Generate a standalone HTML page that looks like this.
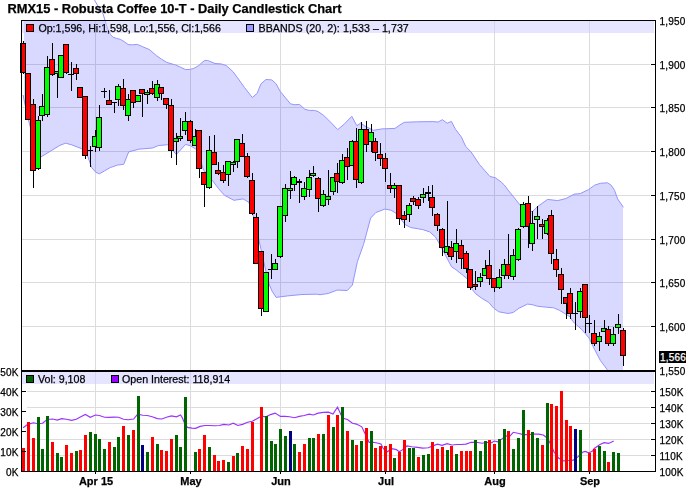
<!DOCTYPE html>
<html><head><meta charset="utf-8"><title>RMX15 - Robusta Coffee 10-T - Daily Candlestick Chart</title>
<style>html,body{margin:0;padding:0;background:#fff}body{width:694px;height:494px;overflow:hidden}svg{display:block}text{font-family:"Liberation Sans",sans-serif;fill:#000;stroke:#000;stroke-width:0.25px}.ax{font-size:10px;letter-spacing:0.18px}.lg{font-size:10.67px}.mo{font-size:11px;font-weight:bold}.ce{shape-rendering:crispEdges}</style></head><body>
<svg width="694" height="494" viewBox="0 0 694 494">
<rect width="694" height="494" fill="#fff"/>
<defs><clipPath id="pc"><rect x="22" y="21" width="633" height="349"/></clipPath><clipPath id="vc"><rect x="22" y="372" width="633" height="99"/></clipPath></defs>
<g class="ce" fill="#dcdcdc">
<rect x="22" y="64" width="628" height="1"/>
<rect x="22" y="107" width="628" height="1"/>
<rect x="22" y="151" width="628" height="1"/>
<rect x="22" y="195" width="628" height="1"/>
<rect x="22" y="239" width="628" height="1"/>
<rect x="22" y="282" width="628" height="1"/>
<rect x="22" y="326" width="628" height="1"/>
<rect x="95" y="21" width="1" height="349"/>
<rect x="190" y="21" width="1" height="349"/>
<rect x="280" y="21" width="1" height="349"/>
<rect x="385" y="21" width="1" height="349"/>
<rect x="494" y="21" width="1" height="349"/>
<rect x="589" y="21" width="1" height="349"/>
<rect x="27" y="391" width="623" height="1"/>
<rect x="27" y="407" width="623" height="1"/>
<rect x="27" y="423" width="623" height="1"/>
<rect x="27" y="439" width="623" height="1"/>
<rect x="27" y="455" width="623" height="1"/>
<rect x="95" y="372" width="1" height="99"/>
<rect x="190" y="372" width="1" height="99"/>
<rect x="280" y="372" width="1" height="99"/>
<rect x="385" y="372" width="1" height="99"/>
<rect x="494" y="372" width="1" height="99"/>
<rect x="589" y="372" width="1" height="99"/>
</g>
<path d="M24.0,-30.0 L86.0,-20.0 L94.5,0.0 L97.3,5.0 L103.1,14.0 L104.6,19.0 L108.1,30.0 L110.5,34.5 L113.1,37.3 L116.5,38.4 L120.2,39.3 L124.0,41.5 L128.2,44.6 L132.5,44.8 L137.3,44.4 L142.4,46.6 L149.4,49.6 L156.5,55.7 L161.5,59.2 L166.6,62.3 L172.0,64.0 L175.6,64.9 L180.5,67.2 L185.7,69.6 L189.8,69.4 L193.8,68.4 L198.9,65.5 L202.0,62.5 L204.9,60.4 L207.3,60.5 L209.9,61.4 L215.0,63.5 L221.0,63.9 L226.1,65.5 L230.0,68.9 L233.1,71.8 L237.2,77.3 L244.4,87.4 L252.3,97.5 L257.1,93.4 L261.0,83.8 L266.0,79.5 L271.8,79.9 L276.1,83.8 L280.4,91.7 L285.5,97.8 L290.5,103.9 L294.8,104.7 L299.5,104.4 L304.9,109.3 L309.3,110.4 L314.3,110.4 L318.2,111.6 L323.7,115.5 L328.7,120.2 L337.7,129.6 L344.6,123.8 L351.8,116.3 L356.8,125.7 L360.7,123.1 L364.8,126.0 L373.4,130.3 L382.0,128.9 L395.0,128.4 L400.0,124.9 L404.3,122.3 L417.3,121.8 L432.9,121.6 L438.1,122.0 L442.4,119.7 L447.1,123.2 L451.4,121.4 L455.4,129.2 L461.4,137.0 L465.7,146.5 L470.9,151.7 L479.6,164.7 L490.0,176.5 L495.2,177.7 L501.2,182.0 L504.3,185.0 L508.1,190.1 L520.2,205.2 L525.0,209.0 L532.4,211.7 L537.5,206.6 L547.6,199.4 L557.6,200.6 L565.8,198.6 L574.4,194.1 L580.2,193.6 L588.8,189.5 L594.6,185.2 L600.3,183.3 L607.5,182.8 L611.2,185.2 L614.5,190.3 L617.6,198.9 L623.4,207.3 L623.0,207.3 L623.0,386.0 L623.4,386.0 L615.0,380.0 L606.9,369.2 L600.4,360.5 L594.7,349.7 L588.9,337.8 L581.7,329.5 L573.0,321.6 L570.0,316.8 L565.1,313.7 L559.3,310.3 L553.6,307.8 L546.4,307.2 L537.7,306.3 L532.0,304.6 L527.6,304.1 L519.0,308.2 L513.2,312.5 L508.2,313.5 L498.8,311.8 L493.8,308.2 L488.7,302.4 L481.5,298.1 L475.8,293.8 L472.2,289.5 L467.5,279.0 L463.1,275.4 L455.9,269.7 L451.6,266.8 L445.9,256.0 L439.4,243.7 L435.4,237.0 L429.7,231.9 L422.5,229.5 L410.9,227.6 L405.2,224.7 L400.0,218.0 L395.9,213.2 L390.9,210.1 L384.8,209.1 L375.7,212.6 L370.6,218.2 L363.5,244.5 L357.4,261.7 L352.4,285.0 L347.3,290.5 L337.2,290.1 L328.1,293.5 L320.0,294.7 L316.5,294.2 L302.0,294.5 L287.6,295.9 L276.1,297.4 L272.0,291.0 L268.4,282.6 L258.8,239.4 L254.0,218.0 L249.0,202.5 L243.2,198.9 L233.9,200.3 L224.5,195.3 L218.7,188.8 L212.2,180.2 L203.7,170.3 L196.5,149.5 L190.7,145.9 L185.6,144.4 L176.3,154.5 L167.6,144.7 L158.3,145.6 L152.5,148.0 L138.8,149.2 L128.7,151.9 L123.7,164.3 L117.4,165.1 L110.2,167.6 L104.5,170.9 L99.4,173.8 L95.8,172.3 L91.5,167.3 L88.0,157.0 L82.5,149.0 L71.3,144.7 L65.5,143.2 L59.8,145.4 L41.0,156.9 L37.0,150.0 L33.0,138.0 L28.0,118.0 L23.8,98.8 L23.0,95.0 L24.0,95.0Z" fill="#0000ff" fill-opacity="0.15" clip-path="url(#pc)"/>
<polyline fill="none" stroke="#9494ff" stroke-width="1" points="86.0,-20.0 94.5,0.0 97.3,5.0 103.1,14.0 104.6,19.0 108.1,30.0 110.5,34.5 113.1,37.3 116.5,38.4 120.2,39.3 124.0,41.5 128.2,44.6 132.5,44.8 137.3,44.4 142.4,46.6 149.4,49.6 156.5,55.7 161.5,59.2 166.6,62.3 172.0,64.0 175.6,64.9 180.5,67.2 185.7,69.6 189.8,69.4 193.8,68.4 198.9,65.5 202.0,62.5 204.9,60.4 207.3,60.5 209.9,61.4 215.0,63.5 221.0,63.9 226.1,65.5 230.0,68.9 233.1,71.8 237.2,77.3 244.4,87.4 252.3,97.5 257.1,93.4 261.0,83.8 266.0,79.5 271.8,79.9 276.1,83.8 280.4,91.7 285.5,97.8 290.5,103.9 294.8,104.7 299.5,104.4 304.9,109.3 309.3,110.4 314.3,110.4 318.2,111.6 323.7,115.5 328.7,120.2 337.7,129.6 344.6,123.8 351.8,116.3 356.8,125.7 360.7,123.1 364.8,126.0 373.4,130.3 382.0,128.9 395.0,128.4 400.0,124.9 404.3,122.3 417.3,121.8 432.9,121.6 438.1,122.0 442.4,119.7 447.1,123.2 451.4,121.4 455.4,129.2 461.4,137.0 465.7,146.5 470.9,151.7 479.6,164.7 490.0,176.5 495.2,177.7 501.2,182.0 504.3,185.0 508.1,190.1 520.2,205.2 525.0,209.0 532.4,211.7 537.5,206.6 547.6,199.4 557.6,200.6 565.8,198.6 574.4,194.1 580.2,193.6 588.8,189.5 594.6,185.2 600.3,183.3 607.5,182.8 611.2,185.2 614.5,190.3 617.6,198.9 623.4,207.3"/>
<polyline fill="none" stroke="#9494ff" stroke-width="1" clip-path="url(#pc)" points="23.0,95.0 23.8,98.8 28.0,118.0 33.0,138.0 37.0,150.0 41.0,156.9 59.8,145.4 65.5,143.2 71.3,144.7 82.5,149.0 88.0,157.0 91.5,167.3 95.8,172.3 99.4,173.8 104.5,170.9 110.2,167.6 117.4,165.1 123.7,164.3 128.7,151.9 138.8,149.2 152.5,148.0 158.3,145.6 167.6,144.7 176.3,154.5 185.6,144.4 190.7,145.9 196.5,149.5 203.7,170.3 212.2,180.2 218.7,188.8 224.5,195.3 233.9,200.3 243.2,198.9 249.0,202.5 254.0,218.0 258.8,239.4 268.4,282.6 272.0,291.0 276.1,297.4 287.6,295.9 302.0,294.5 316.5,294.2 320.0,294.7 328.1,293.5 337.2,290.1 347.3,290.5 352.4,285.0 357.4,261.7 363.5,244.5 370.6,218.2 375.7,212.6 384.8,209.1 390.9,210.1 395.9,213.2 400.0,218.0 405.2,224.7 410.9,227.6 422.5,229.5 429.7,231.9 435.4,237.0 439.4,243.7 445.9,256.0 451.6,266.8 455.9,269.7 463.1,275.4 467.5,279.0 472.2,289.5 475.8,293.8 481.5,298.1 488.7,302.4 493.8,308.2 498.8,311.8 508.2,313.5 513.2,312.5 519.0,308.2 527.6,304.1 532.0,304.6 537.7,306.3 546.4,307.2 553.6,307.8 559.3,310.3 565.1,313.7 570.0,316.8 573.0,321.6 581.7,329.5 588.9,337.8 594.7,349.7 600.4,360.5 606.9,369.2 615.0,380.0 623.4,386.0"/>
<rect class="ce" x="22" y="21" width="632" height="12" fill="#ccccff" fill-opacity="0.5"/>
<g class="ce">
<rect x="23" y="41" width="1" height="33" fill="#000"/>
<rect x="20" y="43" width="6" height="30" fill="#000"/>
<rect x="21" y="44" width="4" height="28" fill="#ff0000"/>
<rect x="28" y="73" width="1" height="47" fill="#000"/>
<rect x="25" y="73" width="6" height="47" fill="#000"/>
<rect x="26" y="74" width="4" height="45" fill="#ff0000"/>
<rect x="33" y="99" width="1" height="89" fill="#000"/>
<rect x="30" y="104" width="6" height="67" fill="#000"/>
<rect x="31" y="105" width="4" height="65" fill="#ff0000"/>
<rect x="38" y="116" width="1" height="54" fill="#000"/>
<rect x="35" y="120" width="6" height="49" fill="#000"/>
<rect x="36" y="121" width="4" height="47" fill="#00ff00"/>
<rect x="42" y="94" width="1" height="27" fill="#000"/>
<rect x="39" y="106" width="6" height="10" fill="#000"/>
<rect x="40" y="107" width="4" height="8" fill="#00ff00"/>
<rect x="47" y="56" width="1" height="61" fill="#000"/>
<rect x="44" y="67" width="6" height="48" fill="#000"/>
<rect x="45" y="68" width="4" height="46" fill="#00ff00"/>
<rect x="52" y="43" width="1" height="33" fill="#000"/>
<rect x="49" y="59" width="6" height="16" fill="#000"/>
<rect x="50" y="60" width="4" height="14" fill="#ff0000"/>
<rect x="57" y="71" width="1" height="27" fill="#000"/>
<rect x="54" y="71" width="6" height="3" fill="#000"/>
<rect x="55" y="72" width="4" height="1" fill="#00ff00"/>
<rect x="61" y="55" width="1" height="23" fill="#000"/>
<rect x="58" y="55" width="6" height="23" fill="#000"/>
<rect x="59" y="56" width="4" height="21" fill="#00ff00"/>
<rect x="66" y="44" width="1" height="30" fill="#000"/>
<rect x="63" y="44" width="6" height="29" fill="#000"/>
<rect x="64" y="45" width="4" height="27" fill="#ff0000"/>
<rect x="71" y="62" width="1" height="29" fill="#000"/>
<rect x="68" y="74" width="6" height="1" fill="#000"/>
<rect x="76" y="64" width="1" height="16" fill="#000"/>
<rect x="73" y="68" width="6" height="6" fill="#000"/>
<rect x="74" y="69" width="4" height="4" fill="#ff0000"/>
<rect x="80" y="87" width="1" height="11" fill="#000"/>
<rect x="77" y="87" width="6" height="11" fill="#000"/>
<rect x="78" y="88" width="4" height="9" fill="#ff0000"/>
<rect x="85" y="96" width="1" height="63" fill="#000"/>
<rect x="82" y="96" width="6" height="60" fill="#000"/>
<rect x="83" y="97" width="4" height="58" fill="#ff0000"/>
<rect x="90" y="146" width="1" height="21" fill="#000"/>
<rect x="87" y="150" width="6" height="1" fill="#000"/>
<rect x="95" y="130" width="1" height="22" fill="#000"/>
<rect x="92" y="136" width="6" height="11" fill="#000"/>
<rect x="93" y="137" width="4" height="9" fill="#00ff00"/>
<rect x="99" y="105" width="1" height="46" fill="#000"/>
<rect x="96" y="117" width="6" height="31" fill="#000"/>
<rect x="97" y="118" width="4" height="29" fill="#00ff00"/>
<rect x="104" y="88" width="1" height="10" fill="#000"/>
<rect x="101" y="91" width="6" height="1" fill="#000"/>
<rect x="109" y="90" width="1" height="15" fill="#000"/>
<rect x="106" y="100" width="6" height="5" fill="#000"/>
<rect x="107" y="101" width="4" height="3" fill="#ff0000"/>
<rect x="114" y="102" width="1" height="11" fill="#000"/>
<rect x="111" y="102" width="6" height="1" fill="#000"/>
<rect x="118" y="84" width="1" height="22" fill="#000"/>
<rect x="115" y="86" width="6" height="14" fill="#000"/>
<rect x="116" y="87" width="4" height="12" fill="#00ff00"/>
<rect x="123" y="79" width="1" height="31" fill="#000"/>
<rect x="120" y="88" width="6" height="18" fill="#000"/>
<rect x="121" y="89" width="4" height="16" fill="#ff0000"/>
<rect x="128" y="94" width="1" height="27" fill="#000"/>
<rect x="125" y="99" width="6" height="17" fill="#000"/>
<rect x="126" y="100" width="4" height="15" fill="#00ff00"/>
<rect x="133" y="90" width="1" height="18" fill="#000"/>
<rect x="130" y="90" width="6" height="13" fill="#000"/>
<rect x="131" y="91" width="4" height="11" fill="#ff0000"/>
<rect x="138" y="95" width="1" height="7" fill="#000"/>
<rect x="135" y="95" width="6" height="7" fill="#000"/>
<rect x="136" y="96" width="4" height="5" fill="#00ff00"/>
<rect x="142" y="89" width="1" height="28" fill="#000"/>
<rect x="139" y="89" width="6" height="5" fill="#000"/>
<rect x="140" y="90" width="4" height="3" fill="#ff0000"/>
<rect x="147" y="90" width="1" height="14" fill="#000"/>
<rect x="144" y="92" width="6" height="3" fill="#000"/>
<rect x="145" y="93" width="4" height="1" fill="#00ff00"/>
<rect x="152" y="81" width="1" height="14" fill="#000"/>
<rect x="149" y="88" width="6" height="6" fill="#000"/>
<rect x="150" y="89" width="4" height="4" fill="#ff0000"/>
<rect x="157" y="80" width="1" height="21" fill="#000"/>
<rect x="154" y="84" width="6" height="14" fill="#000"/>
<rect x="155" y="85" width="4" height="12" fill="#00ff00"/>
<rect x="161" y="87" width="1" height="13" fill="#000"/>
<rect x="158" y="87" width="6" height="7" fill="#000"/>
<rect x="159" y="88" width="4" height="5" fill="#ff0000"/>
<rect x="166" y="98" width="1" height="11" fill="#000"/>
<rect x="163" y="98" width="6" height="7" fill="#000"/>
<rect x="164" y="99" width="4" height="5" fill="#ff0000"/>
<rect x="171" y="99" width="1" height="59" fill="#000"/>
<rect x="168" y="105" width="6" height="46" fill="#000"/>
<rect x="169" y="106" width="4" height="44" fill="#ff0000"/>
<rect x="176" y="133" width="1" height="32" fill="#000"/>
<rect x="173" y="138" width="6" height="4" fill="#000"/>
<rect x="174" y="139" width="4" height="2" fill="#00ff00"/>
<rect x="180" y="118" width="1" height="23" fill="#000"/>
<rect x="177" y="136" width="6" height="3" fill="#000"/>
<rect x="178" y="137" width="4" height="1" fill="#00ff00"/>
<rect x="185" y="112" width="1" height="23" fill="#000"/>
<rect x="182" y="121" width="6" height="10" fill="#000"/>
<rect x="183" y="122" width="4" height="8" fill="#00ff00"/>
<rect x="190" y="120" width="1" height="23" fill="#000"/>
<rect x="187" y="121" width="6" height="20" fill="#000"/>
<rect x="188" y="122" width="4" height="18" fill="#ff0000"/>
<rect x="195" y="129" width="1" height="17" fill="#000"/>
<rect x="192" y="136" width="6" height="10" fill="#000"/>
<rect x="193" y="137" width="4" height="8" fill="#00ff00"/>
<rect x="199" y="130" width="1" height="48" fill="#000"/>
<rect x="196" y="130" width="6" height="39" fill="#000"/>
<rect x="197" y="131" width="4" height="37" fill="#ff0000"/>
<rect x="204" y="172" width="1" height="35" fill="#000"/>
<rect x="201" y="172" width="6" height="13" fill="#000"/>
<rect x="202" y="173" width="4" height="11" fill="#ff0000"/>
<rect x="209" y="136" width="1" height="53" fill="#000"/>
<rect x="206" y="150" width="6" height="38" fill="#000"/>
<rect x="207" y="151" width="4" height="36" fill="#00ff00"/>
<rect x="214" y="135" width="1" height="30" fill="#000"/>
<rect x="211" y="152" width="6" height="13" fill="#000"/>
<rect x="212" y="153" width="4" height="11" fill="#ff0000"/>
<rect x="218" y="162" width="1" height="13" fill="#000"/>
<rect x="215" y="170" width="6" height="4" fill="#000"/>
<rect x="216" y="171" width="4" height="2" fill="#ff0000"/>
<rect x="223" y="165" width="1" height="18" fill="#000"/>
<rect x="220" y="172" width="6" height="9" fill="#000"/>
<rect x="221" y="173" width="4" height="7" fill="#ff0000"/>
<rect x="228" y="161" width="1" height="25" fill="#000"/>
<rect x="225" y="161" width="6" height="14" fill="#000"/>
<rect x="226" y="162" width="4" height="12" fill="#00ff00"/>
<rect x="233" y="161" width="1" height="11" fill="#000"/>
<rect x="230" y="162" width="6" height="3" fill="#000"/>
<rect x="231" y="163" width="4" height="1" fill="#00ff00"/>
<rect x="237" y="139" width="1" height="29" fill="#000"/>
<rect x="234" y="139" width="6" height="23" fill="#000"/>
<rect x="235" y="140" width="4" height="21" fill="#00ff00"/>
<rect x="242" y="134" width="1" height="23" fill="#000"/>
<rect x="239" y="143" width="6" height="14" fill="#000"/>
<rect x="240" y="144" width="4" height="12" fill="#ff0000"/>
<rect x="247" y="153" width="1" height="25" fill="#000"/>
<rect x="244" y="156" width="6" height="21" fill="#000"/>
<rect x="245" y="157" width="4" height="19" fill="#ff0000"/>
<rect x="252" y="173" width="1" height="42" fill="#000"/>
<rect x="249" y="180" width="6" height="34" fill="#000"/>
<rect x="250" y="181" width="4" height="32" fill="#ff0000"/>
<rect x="256" y="213" width="1" height="51" fill="#000"/>
<rect x="253" y="217" width="6" height="47" fill="#000"/>
<rect x="254" y="218" width="4" height="45" fill="#ff0000"/>
<rect x="261" y="251" width="1" height="65" fill="#000"/>
<rect x="258" y="251" width="6" height="58" fill="#000"/>
<rect x="259" y="252" width="4" height="56" fill="#ff0000"/>
<rect x="266" y="272" width="1" height="40" fill="#000"/>
<rect x="263" y="272" width="6" height="40" fill="#000"/>
<rect x="264" y="273" width="4" height="38" fill="#00ff00"/>
<rect x="271" y="254" width="1" height="25" fill="#000"/>
<rect x="268" y="269" width="6" height="1" fill="#000"/>
<rect x="275" y="259" width="1" height="11" fill="#000"/>
<rect x="272" y="263" width="6" height="7" fill="#000"/>
<rect x="273" y="264" width="4" height="5" fill="#00ff00"/>
<rect x="280" y="206" width="1" height="52" fill="#000"/>
<rect x="277" y="206" width="6" height="51" fill="#000"/>
<rect x="278" y="207" width="4" height="49" fill="#00ff00"/>
<rect x="285" y="184" width="1" height="38" fill="#000"/>
<rect x="282" y="188" width="6" height="28" fill="#000"/>
<rect x="283" y="189" width="4" height="26" fill="#00ff00"/>
<rect x="290" y="171" width="1" height="28" fill="#000"/>
<rect x="287" y="188" width="6" height="3" fill="#000"/>
<rect x="288" y="189" width="4" height="1" fill="#00ff00"/>
<rect x="294" y="176" width="1" height="15" fill="#000"/>
<rect x="291" y="177" width="6" height="8" fill="#000"/>
<rect x="292" y="178" width="4" height="6" fill="#00ff00"/>
<rect x="299" y="179" width="1" height="24" fill="#000"/>
<rect x="296" y="181" width="6" height="2" fill="#000"/>
<rect x="304" y="182" width="1" height="18" fill="#000"/>
<rect x="301" y="188" width="6" height="9" fill="#000"/>
<rect x="302" y="189" width="4" height="7" fill="#00ff00"/>
<rect x="309" y="170" width="1" height="27" fill="#000"/>
<rect x="306" y="177" width="6" height="13" fill="#000"/>
<rect x="307" y="178" width="4" height="11" fill="#00ff00"/>
<rect x="313" y="166" width="1" height="11" fill="#000"/>
<rect x="310" y="173" width="6" height="3" fill="#000"/>
<rect x="311" y="174" width="4" height="1" fill="#00ff00"/>
<rect x="318" y="177" width="1" height="35" fill="#000"/>
<rect x="315" y="178" width="6" height="21" fill="#000"/>
<rect x="316" y="179" width="4" height="19" fill="#ff0000"/>
<rect x="323" y="190" width="1" height="17" fill="#000"/>
<rect x="320" y="194" width="6" height="12" fill="#000"/>
<rect x="321" y="195" width="4" height="10" fill="#00ff00"/>
<rect x="328" y="170" width="1" height="35" fill="#000"/>
<rect x="325" y="196" width="6" height="4" fill="#000"/>
<rect x="326" y="197" width="4" height="2" fill="#00ff00"/>
<rect x="333" y="177" width="1" height="18" fill="#000"/>
<rect x="330" y="177" width="6" height="15" fill="#000"/>
<rect x="331" y="178" width="4" height="13" fill="#00ff00"/>
<rect x="337" y="163" width="1" height="30" fill="#000"/>
<rect x="334" y="173" width="6" height="9" fill="#000"/>
<rect x="335" y="174" width="4" height="7" fill="#ff0000"/>
<rect x="342" y="154" width="1" height="30" fill="#000"/>
<rect x="339" y="160" width="6" height="23" fill="#000"/>
<rect x="340" y="161" width="4" height="21" fill="#00ff00"/>
<rect x="347" y="148" width="1" height="32" fill="#000"/>
<rect x="344" y="157" width="6" height="10" fill="#000"/>
<rect x="345" y="158" width="4" height="8" fill="#ff0000"/>
<rect x="352" y="140" width="1" height="26" fill="#000"/>
<rect x="349" y="141" width="6" height="25" fill="#000"/>
<rect x="350" y="142" width="4" height="23" fill="#00ff00"/>
<rect x="356" y="128" width="1" height="60" fill="#000"/>
<rect x="353" y="141" width="6" height="39" fill="#000"/>
<rect x="354" y="142" width="4" height="37" fill="#ff0000"/>
<rect x="361" y="122" width="1" height="62" fill="#000"/>
<rect x="358" y="129" width="6" height="54" fill="#000"/>
<rect x="359" y="130" width="4" height="52" fill="#00ff00"/>
<rect x="366" y="121" width="1" height="31" fill="#000"/>
<rect x="363" y="129" width="6" height="16" fill="#000"/>
<rect x="364" y="130" width="4" height="14" fill="#ff0000"/>
<rect x="371" y="124" width="1" height="28" fill="#000"/>
<rect x="368" y="132" width="6" height="10" fill="#000"/>
<rect x="369" y="133" width="4" height="8" fill="#00ff00"/>
<rect x="375" y="138" width="1" height="23" fill="#000"/>
<rect x="372" y="141" width="6" height="12" fill="#000"/>
<rect x="373" y="142" width="4" height="10" fill="#ff0000"/>
<rect x="380" y="143" width="1" height="23" fill="#000"/>
<rect x="377" y="154" width="6" height="5" fill="#000"/>
<rect x="378" y="155" width="4" height="3" fill="#ff0000"/>
<rect x="385" y="153" width="1" height="29" fill="#000"/>
<rect x="382" y="158" width="6" height="11" fill="#000"/>
<rect x="383" y="159" width="4" height="9" fill="#ff0000"/>
<rect x="390" y="173" width="1" height="20" fill="#000"/>
<rect x="387" y="185" width="6" height="4" fill="#000"/>
<rect x="388" y="186" width="4" height="2" fill="#ff0000"/>
<rect x="394" y="183" width="1" height="15" fill="#000"/>
<rect x="391" y="185" width="6" height="4" fill="#000"/>
<rect x="392" y="186" width="4" height="2" fill="#00ff00"/>
<rect x="399" y="185" width="1" height="40" fill="#000"/>
<rect x="396" y="185" width="6" height="34" fill="#000"/>
<rect x="397" y="186" width="4" height="32" fill="#ff0000"/>
<rect x="404" y="211" width="1" height="17" fill="#000"/>
<rect x="401" y="215" width="6" height="5" fill="#000"/>
<rect x="402" y="216" width="4" height="3" fill="#ff0000"/>
<rect x="409" y="203" width="1" height="19" fill="#000"/>
<rect x="406" y="205" width="6" height="10" fill="#000"/>
<rect x="407" y="206" width="4" height="8" fill="#00ff00"/>
<rect x="413" y="196" width="1" height="9" fill="#000"/>
<rect x="410" y="198" width="6" height="4" fill="#000"/>
<rect x="411" y="199" width="4" height="2" fill="#ff0000"/>
<rect x="418" y="197" width="1" height="12" fill="#000"/>
<rect x="415" y="199" width="6" height="7" fill="#000"/>
<rect x="416" y="200" width="4" height="5" fill="#ff0000"/>
<rect x="423" y="188" width="1" height="15" fill="#000"/>
<rect x="420" y="194" width="6" height="4" fill="#000"/>
<rect x="421" y="195" width="4" height="2" fill="#00ff00"/>
<rect x="428" y="186" width="1" height="15" fill="#000"/>
<rect x="425" y="192" width="6" height="2" fill="#000"/>
<rect x="432" y="185" width="1" height="31" fill="#000"/>
<rect x="429" y="197" width="6" height="11" fill="#000"/>
<rect x="430" y="198" width="4" height="9" fill="#ff0000"/>
<rect x="437" y="213" width="1" height="18" fill="#000"/>
<rect x="434" y="214" width="6" height="12" fill="#000"/>
<rect x="435" y="215" width="4" height="10" fill="#ff0000"/>
<rect x="442" y="228" width="1" height="28" fill="#000"/>
<rect x="439" y="229" width="6" height="19" fill="#000"/>
<rect x="440" y="230" width="4" height="17" fill="#ff0000"/>
<rect x="447" y="201" width="1" height="54" fill="#000"/>
<rect x="444" y="246" width="6" height="7" fill="#000"/>
<rect x="445" y="247" width="4" height="5" fill="#00ff00"/>
<rect x="451" y="241" width="1" height="19" fill="#000"/>
<rect x="448" y="247" width="6" height="10" fill="#000"/>
<rect x="449" y="248" width="4" height="8" fill="#ff0000"/>
<rect x="456" y="229" width="1" height="34" fill="#000"/>
<rect x="453" y="243" width="6" height="9" fill="#000"/>
<rect x="454" y="244" width="4" height="7" fill="#00ff00"/>
<rect x="461" y="240" width="1" height="29" fill="#000"/>
<rect x="458" y="245" width="6" height="14" fill="#000"/>
<rect x="459" y="246" width="4" height="12" fill="#ff0000"/>
<rect x="466" y="251" width="1" height="22" fill="#000"/>
<rect x="463" y="253" width="6" height="16" fill="#000"/>
<rect x="464" y="254" width="4" height="14" fill="#ff0000"/>
<rect x="470" y="269" width="1" height="21" fill="#000"/>
<rect x="467" y="269" width="6" height="19" fill="#000"/>
<rect x="468" y="270" width="4" height="17" fill="#ff0000"/>
<rect x="475" y="271" width="1" height="19" fill="#000"/>
<rect x="472" y="284" width="6" height="3" fill="#000"/>
<rect x="473" y="285" width="4" height="1" fill="#ff0000"/>
<rect x="480" y="273" width="1" height="14" fill="#000"/>
<rect x="477" y="277" width="6" height="5" fill="#000"/>
<rect x="478" y="278" width="4" height="3" fill="#00ff00"/>
<rect x="485" y="260" width="1" height="16" fill="#000"/>
<rect x="482" y="268" width="6" height="8" fill="#000"/>
<rect x="483" y="269" width="4" height="6" fill="#00ff00"/>
<rect x="489" y="250" width="1" height="35" fill="#000"/>
<rect x="486" y="265" width="6" height="14" fill="#000"/>
<rect x="487" y="266" width="4" height="12" fill="#ff0000"/>
<rect x="494" y="278" width="1" height="14" fill="#000"/>
<rect x="491" y="278" width="6" height="10" fill="#000"/>
<rect x="492" y="279" width="4" height="8" fill="#ff0000"/>
<rect x="499" y="269" width="1" height="20" fill="#000"/>
<rect x="496" y="277" width="6" height="11" fill="#000"/>
<rect x="497" y="278" width="4" height="9" fill="#00ff00"/>
<rect x="504" y="259" width="1" height="20" fill="#000"/>
<rect x="501" y="264" width="6" height="12" fill="#000"/>
<rect x="502" y="265" width="4" height="10" fill="#00ff00"/>
<rect x="508" y="234" width="1" height="45" fill="#000"/>
<rect x="505" y="264" width="6" height="12" fill="#000"/>
<rect x="506" y="265" width="4" height="10" fill="#ff0000"/>
<rect x="513" y="249" width="1" height="31" fill="#000"/>
<rect x="510" y="255" width="6" height="22" fill="#000"/>
<rect x="511" y="256" width="4" height="20" fill="#00ff00"/>
<rect x="518" y="228" width="1" height="33" fill="#000"/>
<rect x="515" y="229" width="6" height="31" fill="#000"/>
<rect x="516" y="230" width="4" height="29" fill="#00ff00"/>
<rect x="523" y="202" width="1" height="26" fill="#000"/>
<rect x="520" y="204" width="6" height="23" fill="#000"/>
<rect x="521" y="205" width="4" height="21" fill="#00ff00"/>
<rect x="528" y="196" width="1" height="52" fill="#000"/>
<rect x="525" y="203" width="6" height="24" fill="#000"/>
<rect x="526" y="204" width="4" height="22" fill="#ff0000"/>
<rect x="532" y="211" width="1" height="40" fill="#000"/>
<rect x="529" y="223" width="6" height="21" fill="#000"/>
<rect x="530" y="224" width="4" height="19" fill="#00ff00"/>
<rect x="537" y="206" width="1" height="33" fill="#000"/>
<rect x="534" y="216" width="6" height="4" fill="#000"/>
<rect x="535" y="217" width="4" height="2" fill="#00ff00"/>
<rect x="542" y="219" width="1" height="20" fill="#000"/>
<rect x="539" y="224" width="6" height="3" fill="#000"/>
<rect x="540" y="225" width="4" height="1" fill="#ff0000"/>
<rect x="547" y="218" width="1" height="17" fill="#000"/>
<rect x="544" y="220" width="6" height="14" fill="#000"/>
<rect x="545" y="221" width="4" height="12" fill="#00ff00"/>
<rect x="551" y="210" width="1" height="54" fill="#000"/>
<rect x="548" y="215" width="6" height="39" fill="#000"/>
<rect x="549" y="216" width="4" height="37" fill="#ff0000"/>
<rect x="556" y="249" width="1" height="28" fill="#000"/>
<rect x="553" y="259" width="6" height="11" fill="#000"/>
<rect x="554" y="260" width="4" height="9" fill="#ff0000"/>
<rect x="561" y="268" width="1" height="36" fill="#000"/>
<rect x="558" y="274" width="6" height="16" fill="#000"/>
<rect x="559" y="275" width="4" height="14" fill="#ff0000"/>
<rect x="566" y="297" width="1" height="22" fill="#000"/>
<rect x="563" y="297" width="6" height="7" fill="#000"/>
<rect x="564" y="298" width="4" height="5" fill="#ff0000"/>
<rect x="570" y="288" width="1" height="31" fill="#000"/>
<rect x="567" y="293" width="6" height="21" fill="#000"/>
<rect x="568" y="294" width="4" height="19" fill="#ff0000"/>
<rect x="575" y="302" width="1" height="28" fill="#000"/>
<rect x="572" y="313" width="6" height="1" fill="#000"/>
<rect x="580" y="288" width="1" height="30" fill="#000"/>
<rect x="577" y="291" width="6" height="21" fill="#000"/>
<rect x="578" y="292" width="4" height="19" fill="#00ff00"/>
<rect x="585" y="284" width="1" height="49" fill="#000"/>
<rect x="582" y="284" width="6" height="34" fill="#000"/>
<rect x="583" y="285" width="4" height="32" fill="#ff0000"/>
<rect x="589" y="315" width="1" height="18" fill="#000"/>
<rect x="586" y="323" width="6" height="1" fill="#000"/>
<rect x="594" y="320" width="1" height="26" fill="#000"/>
<rect x="591" y="333" width="6" height="11" fill="#000"/>
<rect x="592" y="334" width="4" height="9" fill="#ff0000"/>
<rect x="599" y="332" width="1" height="19" fill="#000"/>
<rect x="596" y="336" width="6" height="6" fill="#000"/>
<rect x="597" y="337" width="4" height="4" fill="#00ff00"/>
<rect x="604" y="320" width="1" height="12" fill="#000"/>
<rect x="601" y="328" width="6" height="4" fill="#000"/>
<rect x="602" y="329" width="4" height="2" fill="#00ff00"/>
<rect x="608" y="326" width="1" height="20" fill="#000"/>
<rect x="605" y="329" width="6" height="15" fill="#000"/>
<rect x="606" y="330" width="4" height="13" fill="#ff0000"/>
<rect x="613" y="327" width="1" height="19" fill="#000"/>
<rect x="610" y="334" width="6" height="10" fill="#000"/>
<rect x="611" y="335" width="4" height="8" fill="#00ff00"/>
<rect x="618" y="314" width="1" height="20" fill="#000"/>
<rect x="615" y="324" width="6" height="4" fill="#000"/>
<rect x="616" y="325" width="4" height="2" fill="#00ff00"/>
<rect x="623" y="328" width="1" height="38" fill="#000"/>
<rect x="620" y="330" width="6" height="26" fill="#000"/>
<rect x="621" y="331" width="4" height="24" fill="#ff0000"/>
</g>
<polyline fill="none" stroke="#9933ff" stroke-width="1.15" points="23.1,427.7 27.8,424.4 33.5,422.8 38.0,423.7 42.6,423.2 47.1,419.5 52.6,419.0 57.2,420.1 61.7,418.6 66.3,419.2 71.7,420.4 76.3,419.2 80.8,416.8 85.4,414.4 90.3,417.3 95.4,415.0 99.4,415.5 104.5,417.2 109.1,417.3 114.2,417.2 118.5,417.3 123.6,419.2 128.2,419.7 133.6,419.0 137.7,414.1 142.8,415.3 147.3,415.5 152.2,416.8 157.3,418.6 161.9,419.0 166.4,417.2 171.5,415.9 176.4,416.8 180.6,415.0 182.3,417.7 184.6,423.2 187.4,427.4 191.9,428.1 195.6,428.3 200.1,426.4 204.7,425.5 209.2,425.5 214.7,425.7 219.3,425.5 223.8,424.4 228.9,425.0 233.3,423.2 237.8,425.5 242.6,424.4 247.5,422.3 252.3,421.3 261.4,416.2 265.9,416.8 270.5,414.6 275.1,413.1 280.5,416.4 285.1,416.4 289.6,416.8 294.5,417.7 299.3,416.4 304.2,415.5 309.1,414.1 313.3,415.0 318.2,413.1 323.3,412.4 328.4,412.2 333.0,414.1 337.5,407.1 339.4,411.3 342.5,418.0 347.4,419.5 352.5,423.2 356.5,424.1 361.8,426.8 364.6,432.8 369.1,442.3 373.7,442.3 378.2,443.2 381.0,444.0 383.3,448.7 387.3,451.8 391.9,448.7 396.4,449.6 399.2,451.8 402.3,449.9 407.0,445.9 411.9,446.8 417.4,447.4 422.8,448.1 428.3,447.8 432.9,445.9 437.4,444.1 442.0,445.4 447.1,443.7 452.0,445.0 456.5,444.5 461.1,444.5 466.0,444.1 471.1,442.3 475.7,442.3 482.3,443.2 486.8,442.3 491.8,442.7 494.1,441.0 497.8,441.9 502.3,438.6 505.6,435.9 509.6,436.3 513.3,432.3 517.8,433.2 523.3,434.6 528.7,434.6 533.3,434.1 538.8,434.1 543.3,435.0 546.9,437.7 549.7,442.3 554.2,452.3 558.8,458.3 563.3,460.9 568.3,460.5 573.4,460.1 577.9,456.9 582.5,452.3 585.2,451.4 588.8,452.9 592.5,451.0 594.0,448.7 599.5,444.7 604.1,442.7 608.6,443.4 613.7,441.0"/>
<g class="ce">
<rect x="22" y="448" width="3" height="23" fill="#ff0000"/>
<rect x="27" y="422" width="3" height="49" fill="#ff0000"/>
<rect x="32" y="438" width="3" height="33" fill="#ff0000"/>
<rect x="37" y="417" width="3" height="54" fill="#006400"/>
<rect x="41" y="449" width="3" height="22" fill="#006400"/>
<rect x="46" y="416" width="3" height="55" fill="#006400"/>
<rect x="51" y="442" width="3" height="29" fill="#ff0000"/>
<rect x="56" y="453" width="3" height="18" fill="#006400"/>
<rect x="60" y="457" width="3" height="14" fill="#006400"/>
<rect x="65" y="445" width="3" height="26" fill="#ff0000"/>
<rect x="70" y="453" width="3" height="18" fill="#ff0000"/>
<rect x="75" y="451" width="3" height="20" fill="#006400"/>
<rect x="79" y="450" width="3" height="21" fill="#ff0000"/>
<rect x="84" y="435" width="3" height="36" fill="#ff0000"/>
<rect x="89" y="432" width="3" height="39" fill="#006400"/>
<rect x="94" y="434" width="3" height="37" fill="#006400"/>
<rect x="98" y="439" width="3" height="32" fill="#006400"/>
<rect x="103" y="449" width="3" height="22" fill="#006400"/>
<rect x="108" y="442" width="3" height="29" fill="#ff0000"/>
<rect x="113" y="447" width="3" height="24" fill="#006400"/>
<rect x="117" y="437" width="3" height="34" fill="#006400"/>
<rect x="122" y="426" width="3" height="45" fill="#ff0000"/>
<rect x="127" y="435" width="3" height="36" fill="#006400"/>
<rect x="132" y="430" width="3" height="41" fill="#ff0000"/>
<rect x="137" y="396" width="3" height="75" fill="#006400"/>
<rect x="141" y="445" width="3" height="26" fill="#000080"/>
<rect x="146" y="452" width="3" height="19" fill="#006400"/>
<rect x="151" y="437" width="3" height="34" fill="#ff0000"/>
<rect x="156" y="444" width="3" height="27" fill="#006400"/>
<rect x="160" y="450" width="3" height="21" fill="#ff0000"/>
<rect x="165" y="451" width="3" height="20" fill="#ff0000"/>
<rect x="170" y="439" width="3" height="32" fill="#ff0000"/>
<rect x="175" y="435" width="3" height="36" fill="#006400"/>
<rect x="179" y="447" width="3" height="24" fill="#006400"/>
<rect x="184" y="397" width="3" height="74" fill="#006400"/>
<rect x="194" y="452" width="3" height="19" fill="#006400"/>
<rect x="198" y="449" width="3" height="22" fill="#ff0000"/>
<rect x="203" y="435" width="3" height="36" fill="#ff0000"/>
<rect x="208" y="447" width="3" height="24" fill="#006400"/>
<rect x="213" y="455" width="3" height="16" fill="#ff0000"/>
<rect x="217" y="461" width="3" height="10" fill="#ff0000"/>
<rect x="222" y="460" width="3" height="11" fill="#ff0000"/>
<rect x="227" y="462" width="3" height="9" fill="#006400"/>
<rect x="232" y="456" width="3" height="15" fill="#ff0000"/>
<rect x="236" y="453" width="3" height="18" fill="#006400"/>
<rect x="241" y="446" width="3" height="25" fill="#ff0000"/>
<rect x="246" y="449" width="3" height="22" fill="#ff0000"/>
<rect x="251" y="422" width="3" height="49" fill="#ff0000"/>
<rect x="260" y="407" width="3" height="64" fill="#ff0000"/>
<rect x="265" y="416" width="3" height="55" fill="#006400"/>
<rect x="270" y="441" width="3" height="30" fill="#006400"/>
<rect x="274" y="444" width="3" height="27" fill="#006400"/>
<rect x="279" y="429" width="3" height="42" fill="#006400"/>
<rect x="284" y="436" width="3" height="35" fill="#006400"/>
<rect x="289" y="431" width="3" height="40" fill="#000080"/>
<rect x="293" y="444" width="3" height="27" fill="#006400"/>
<rect x="298" y="452" width="3" height="19" fill="#ff0000"/>
<rect x="303" y="444" width="3" height="27" fill="#ff0000"/>
<rect x="308" y="438" width="3" height="33" fill="#006400"/>
<rect x="312" y="438" width="3" height="33" fill="#006400"/>
<rect x="317" y="434" width="3" height="37" fill="#ff0000"/>
<rect x="322" y="434" width="3" height="37" fill="#006400"/>
<rect x="327" y="415" width="3" height="56" fill="#ff0000"/>
<rect x="332" y="427" width="3" height="44" fill="#006400"/>
<rect x="336" y="415" width="3" height="56" fill="#ff0000"/>
<rect x="341" y="407" width="3" height="64" fill="#006400"/>
<rect x="346" y="431" width="3" height="40" fill="#ff0000"/>
<rect x="351" y="440" width="3" height="31" fill="#006400"/>
<rect x="355" y="445" width="3" height="26" fill="#ff0000"/>
<rect x="360" y="441" width="3" height="30" fill="#006400"/>
<rect x="365" y="428" width="3" height="43" fill="#ff0000"/>
<rect x="370" y="431" width="3" height="40" fill="#006400"/>
<rect x="374" y="448" width="3" height="23" fill="#ff0000"/>
<rect x="379" y="446" width="3" height="25" fill="#ff0000"/>
<rect x="384" y="446" width="3" height="25" fill="#ff0000"/>
<rect x="389" y="444" width="3" height="27" fill="#ff0000"/>
<rect x="393" y="458" width="3" height="13" fill="#006400"/>
<rect x="398" y="452" width="3" height="19" fill="#ff0000"/>
<rect x="403" y="440" width="3" height="31" fill="#ff0000"/>
<rect x="408" y="448" width="3" height="23" fill="#006400"/>
<rect x="412" y="448" width="3" height="23" fill="#006400"/>
<rect x="417" y="457" width="3" height="14" fill="#ff0000"/>
<rect x="422" y="455" width="3" height="16" fill="#006400"/>
<rect x="427" y="454" width="3" height="17" fill="#006400"/>
<rect x="431" y="442" width="3" height="29" fill="#ff0000"/>
<rect x="436" y="449" width="3" height="22" fill="#ff0000"/>
<rect x="441" y="447" width="3" height="24" fill="#ff0000"/>
<rect x="446" y="450" width="3" height="21" fill="#006400"/>
<rect x="450" y="446" width="3" height="25" fill="#ff0000"/>
<rect x="455" y="454" width="3" height="17" fill="#006400"/>
<rect x="460" y="451" width="3" height="20" fill="#ff0000"/>
<rect x="465" y="451" width="3" height="20" fill="#ff0000"/>
<rect x="469" y="451" width="3" height="20" fill="#ff0000"/>
<rect x="474" y="440" width="3" height="31" fill="#006400"/>
<rect x="479" y="451" width="3" height="20" fill="#006400"/>
<rect x="484" y="441" width="3" height="30" fill="#006400"/>
<rect x="488" y="440" width="3" height="31" fill="#ff0000"/>
<rect x="493" y="444" width="3" height="27" fill="#ff0000"/>
<rect x="498" y="439" width="3" height="32" fill="#006400"/>
<rect x="503" y="429" width="3" height="42" fill="#006400"/>
<rect x="507" y="431" width="3" height="40" fill="#ff0000"/>
<rect x="512" y="449" width="3" height="22" fill="#006400"/>
<rect x="517" y="438" width="3" height="33" fill="#006400"/>
<rect x="522" y="410" width="3" height="61" fill="#006400"/>
<rect x="527" y="430" width="3" height="41" fill="#ff0000"/>
<rect x="531" y="432" width="3" height="39" fill="#006400"/>
<rect x="536" y="438" width="3" height="33" fill="#006400"/>
<rect x="541" y="445" width="3" height="26" fill="#ff0000"/>
<rect x="546" y="403" width="3" height="68" fill="#006400"/>
<rect x="550" y="404" width="3" height="67" fill="#ff0000"/>
<rect x="555" y="406" width="3" height="65" fill="#ff0000"/>
<rect x="560" y="391" width="3" height="80" fill="#ff0000"/>
<rect x="565" y="420" width="3" height="51" fill="#ff0000"/>
<rect x="569" y="426" width="3" height="45" fill="#ff0000"/>
<rect x="574" y="429" width="3" height="42" fill="#000080"/>
<rect x="579" y="430" width="3" height="41" fill="#006400"/>
<rect x="588" y="453" width="3" height="18" fill="#ff0000"/>
<rect x="593" y="449" width="3" height="22" fill="#ff0000"/>
<rect x="598" y="446" width="3" height="25" fill="#006400"/>
<rect x="603" y="451" width="3" height="20" fill="#006400"/>
<rect x="607" y="462" width="3" height="9" fill="#ff0000"/>
<rect x="612" y="452" width="3" height="19" fill="#006400"/>
<rect x="617" y="453" width="3" height="18" fill="#006400"/>
</g>
<rect class="ce" x="22" y="372" width="632" height="12" fill="#ccccff" fill-opacity="0.5"/>
<g class="ce" fill="#000">
<rect x="21" y="20" width="635" height="1"/>
<rect x="21" y="20" width="1" height="452"/>
<rect x="655" y="20" width="1" height="452"/>
<rect x="21" y="471" width="635" height="1"/>
<rect x="21" y="370" width="635" height="2"/>
<rect x="651" y="20" width="4" height="1"/>
<rect x="651" y="64" width="4" height="1"/>
<rect x="651" y="107" width="4" height="1"/>
<rect x="651" y="151" width="4" height="1"/>
<rect x="651" y="195" width="4" height="1"/>
<rect x="651" y="239" width="4" height="1"/>
<rect x="651" y="282" width="4" height="1"/>
<rect x="651" y="326" width="4" height="1"/>
<rect x="651" y="370" width="4" height="1"/>
<rect x="651" y="391" width="4" height="1"/>
<rect x="651" y="407" width="4" height="1"/>
<rect x="651" y="423" width="4" height="1"/>
<rect x="651" y="439" width="4" height="1"/>
<rect x="651" y="455" width="4" height="1"/>
<rect x="651" y="471" width="4" height="1"/>
<rect x="22" y="391" width="4" height="1"/>
<rect x="22" y="411" width="4" height="1"/>
<rect x="22" y="431" width="4" height="1"/>
<rect x="22" y="451" width="4" height="1"/>
<rect x="95" y="472" width="1" height="2"/>
<rect x="190" y="472" width="1" height="2"/>
<rect x="280" y="472" width="1" height="2"/>
<rect x="385" y="472" width="1" height="2"/>
<rect x="494" y="472" width="1" height="2"/>
<rect x="589" y="472" width="1" height="2"/>
</g>
<rect class="ce" x="26" y="24" width="8" height="8" fill="#000"/><rect class="ce" x="27" y="25" width="6" height="6" fill="#ff0000"/>
<rect class="ce" x="246" y="24" width="8" height="8" fill="#000"/><rect class="ce" x="247" y="25" width="6" height="6" fill="#9999ff"/>
<rect class="ce" x="26" y="375" width="8" height="8" fill="#000"/><rect class="ce" x="27" y="376" width="6" height="6" fill="#006400"/>
<rect class="ce" x="111" y="375" width="8" height="8" fill="#000"/><rect class="ce" x="112" y="376" width="6" height="6" fill="#9900ff"/>
<g style="filter:grayscale(1)">
<text x="7.5" y="12.6" style="font-size:12.85px;font-weight:bold">RMX15 - Robusta Coffee 10-T - Daily Candlestick Chart</text>
<text class="lg" x="38.4" y="32">Op:1,596, Hi:1,598, Lo:1,556, Cl:1,566</text>
<text class="lg" x="258.5" y="32" textLength="150.3">BBANDS (20, 2): 1,533 – 1,737</text>
<text class="lg" x="38" y="383">Vol: 9,108</text>
<text class="lg" x="122" y="383">Open Interest: 118,914</text>
<text class="ax" x="659.5" y="24.6">1,950</text>
<text class="ax" x="659.5" y="68.6">1,900</text>
<text class="ax" x="659.5" y="111.6">1,850</text>
<text class="ax" x="659.5" y="155.6">1,800</text>
<text class="ax" x="659.5" y="199.6">1,750</text>
<text class="ax" x="659.5" y="243.6">1,700</text>
<text class="ax" x="659.5" y="286.6">1,650</text>
<text class="ax" x="659.5" y="330.6">1,600</text>
<text class="ax" x="659.5" y="374.6">1,550</text>
<text class="ax" x="659.5" y="395.6">150K</text>
<text class="ax" x="659.5" y="411.6">140K</text>
<text class="ax" x="659.5" y="427.6">130K</text>
<text class="ax" x="659.5" y="443.6">120K</text>
<text class="ax" x="659.5" y="459.6">110K</text>
<text class="ax" x="659.5" y="475.6">100K</text>
<text class="ax" x="18.5" y="375.6" text-anchor="end">50K</text>
<text class="ax" x="18.5" y="395.6" text-anchor="end">40K</text>
<text class="ax" x="18.5" y="415.6" text-anchor="end">30K</text>
<text class="ax" x="18.5" y="435.6" text-anchor="end">20K</text>
<text class="ax" x="18.5" y="455.6" text-anchor="end">10K</text>
<text class="ax" x="18.5" y="475.6" text-anchor="end">0K</text>
<text class="mo" x="96" y="484.8" text-anchor="middle">Apr 15</text>
<text class="mo" x="191" y="484.8" text-anchor="middle">May</text>
<text class="mo" x="281" y="484.8" text-anchor="middle">Jun</text>
<text class="mo" x="386" y="484.8" text-anchor="middle">Jul</text>
<text class="mo" x="495" y="484.8" text-anchor="middle">Aug</text>
<text class="mo" x="590" y="484.8" text-anchor="middle">Sep</text>
</g>
<rect class="ce" x="659" y="351" width="27" height="12" fill="#000"/>
<text class="ax" x="660" y="360.6" style="fill:#fff;stroke:#fff">1,566</text>
</svg></body></html>
